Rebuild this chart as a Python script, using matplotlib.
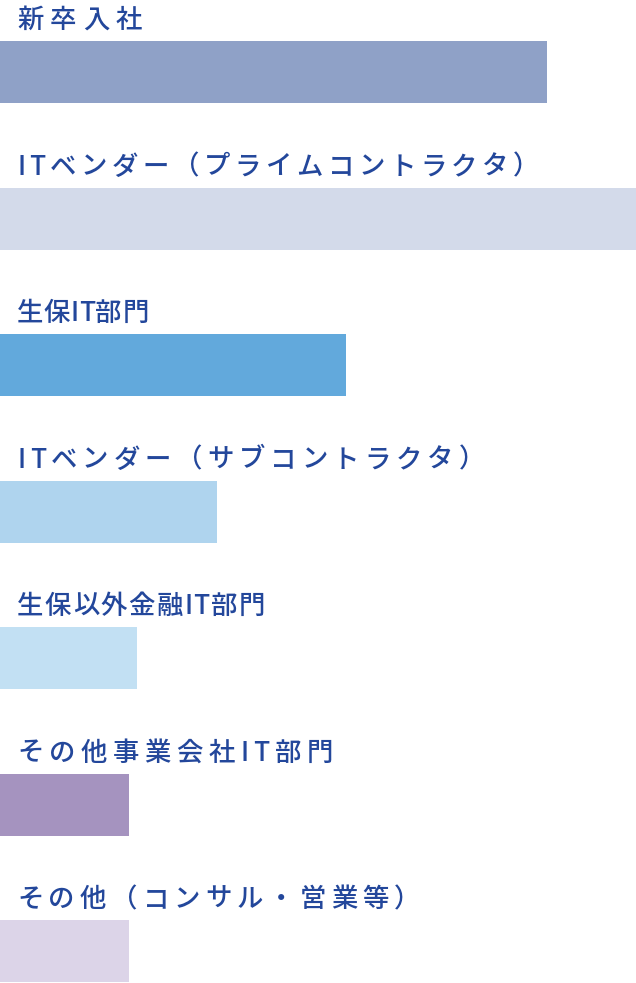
import matplotlib.pyplot as plt
from matplotlib import font_manager
from matplotlib.ft2font import FT2Font

plt.rcParams['font.family'] = ['Noto Sans CJK JP', 'DejaVu Sans']

categories = ['新卒入社',
              'ITベンダー（プライムコントラクタ）',
              '生保IT部門',
              'ITベンダー（サブコントラクタ）',
              '生保以外金融IT部門',
              'その他事業会社IT部門',
              'その他（コンサル・営業等）']
values = [547, 636, 346, 217, 137, 129, 129]
colors = ['#8fa1c7', '#d3daea', '#62a9dc', '#afd4ee', '#c2e0f3', '#a593bf', '#dcd4e8']

# letter-spacing of each label in px (the labels are not set evenly)
tracking = [6.5, 4.5, 0.5, 5, 1.5, 5.5, 5]

text_color = '#23479b'
font_size = 19
pitch = 146.5  # px between rows
bar_h = 62 / pitch

# glyph advances, so the labels can be drawn with letter-spacing
font_path = font_manager.findfont(font_manager.FontProperties(family='Noto Sans CJK JP'))
ft = FT2Font(font_path)
ft.set_size(font_size, 100)


def advance(ch):
    g = ft.load_char(ord(ch))
    return g.linearHoriAdvance / 65536


fig = plt.figure(figsize=(6.36, 9.83), dpi=100)
ax = fig.add_axes([0, 0, 1, 1])

pos = list(range(len(categories)))
ax.barh(pos, values, height=bar_h, color=colors, linewidth=0)

for i, label in enumerate(categories):
    x = 17
    for ch in label:
        ax.annotate(ch, xy=(0, i - bar_h / 2), xytext=(x, 13),
                    textcoords='offset pixels', ha='left', va='baseline',
                    fontsize=font_size, fontweight='medium', color=text_color)
        x += advance(ch) + tracking[i]

ax.set_xlim(0, 636)
ax.set_ylim((983 - 72) / pitch, -72 / pitch)
ax.axis('off')

fig.savefig('out.png', dpi=100)
